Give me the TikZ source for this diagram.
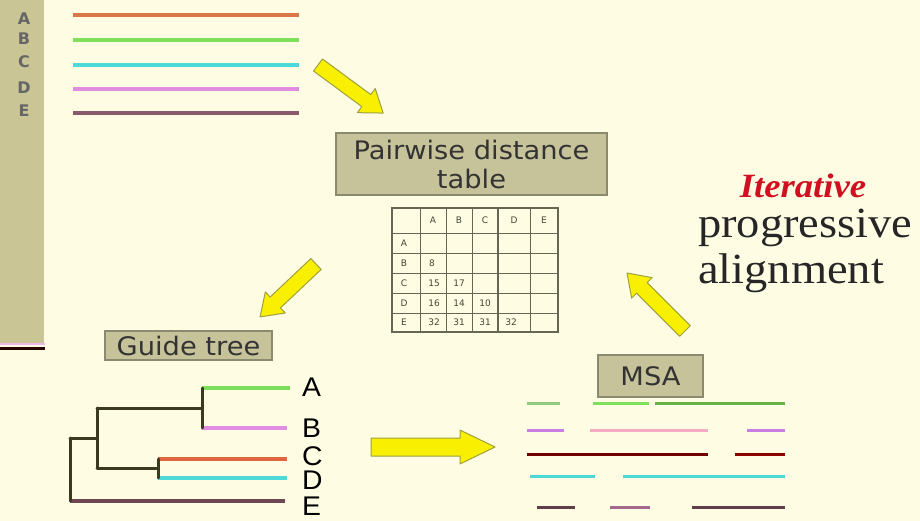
\documentclass[tikz,border=0pt]{standalone}
\usepackage{fontspec}
\setmainfont[FakeStretch=1.08]{Liberation Serif}
\newfontfamily\boxfont[FakeStretch=1.07]{DejaVu Sans}
\newfontfamily\smallfont{DejaVu Sans}
\newfontfamily\labfont[FakeStretch=1.05]{Liberation Sans}
\definecolor{bg}{HTML}{FEFDE4}
\definecolor{panel}{HTML}{C9C595}
\definecolor{boxfill}{HTML}{C6C29A}
\definecolor{boxborder}{HTML}{8A8A70}
\definecolor{arrowfill}{HTML}{F8F000}
\definecolor{arrowdraw}{HTML}{A0A040}
\definecolor{seqA}{HTML}{D9774A}
\definecolor{seqB}{HTML}{7EE05A}
\definecolor{seqC}{HTML}{4FD8D8}
\definecolor{seqD}{HTML}{E08CE0}
\definecolor{seqE}{HTML}{8A5A6A}
\definecolor{branch}{HTML}{3A3A1E}
\definecolor{itred}{HTML}{D01020}
\definecolor{tabline}{HTML}{666655}
\definecolor{tabtext}{HTML}{444433}
\begin{document}
\begin{tikzpicture}[x=1pt,y=-1pt,
  seq/.style={line width=3.5pt},
  br/.style={line width=3pt,color=branch,line cap=round},
  labelbox/.style={draw=boxborder,fill=boxfill,line width=1.2pt,inner sep=0pt,
     font=\boxfont\fontsize{25.5}{29}\selectfont,text=black!80,align=center},
  tcell/.style={font=\smallfont\fontsize{9}{10}\selectfont,text=tabtext,inner sep=0pt},
  leaf/.style={font=\labfont\fontsize{27}{30}\selectfont,anchor=base west,inner sep=0pt},
  sidel/.style={font=\smallfont\bfseries\fontsize{16}{18}\selectfont,text=black!60,inner sep=0pt},
  arrowstyle/.style={fill=arrowfill,draw=arrowdraw,line width=1pt,line join=round},
  pics/blockarrow/.style n args={4}{code={
    \path[arrowstyle] (0,{-#2/2}) -- ({#1-#4},{-#2/2}) -- ({#1-#4},{-#3/2}) -- (#1,0)
      -- ({#1-#4},{#3/2}) -- ({#1-#4},{#2/2}) -- (0,{#2/2}) -- cycle;}}
]
% background
\fill[bg] (0,0) rectangle (920,521);
\useasboundingbox (0,0) rectangle (920,521);
% left panel
\fill[panel] (0,0) rectangle (44,345);
\draw[line width=1.5pt,color=seqD!60] (0,344) -- (45,344);
\draw[line width=3pt,color=black!85!red] (0,348) -- (45,348);
\node[sidel] (sA) at (24,19) {A};
\node[sidel] (sB) at (24,39) {B};
\node[sidel] (sC) at (24,62) {C};
\node[sidel] (sD) at (24,88) {D};
\node[sidel] (sE) at (24,111) {E};
% input sequences
\draw[seq,seqA] (73,15) -- (299,15);
\draw[seq,seqB] (73,40) -- (299,40);
\draw[seq,seqC] (73,65) -- (299,65);
\draw[seq,seqD] (73,89) -- (299,89);
\draw[seq,seqE] (73,113) -- (299,113);
% arrows
\pic[rotate=-36.4] (ar1) at (318,65) {blockarrow={81}{15}{30}{21}};
\pic[rotate=223.4] (ar2) at (316,264) {blockarrow={77}{15}{29}{21}};
\pic (ar3) at (371,447) {blockarrow={124}{18}{34}{35}};
\pic[rotate=135] (ar4) at (685,331) {blockarrow={82}{15}{29}{21}};
% pairwise box
\node[labelbox,minimum width=271pt,minimum height=62pt] (pw) at (471.5,164)
  {Pairwise distance\\table};
% table
\draw[tabline,line width=1.2pt] (392,208) rectangle (558,332);
\foreach \xx in {420,446,472,498,530} \draw[tabline,line width=0.8pt] (\xx,208) -- (\xx,332);
\foreach \yy in {233,253,273,293,313} \draw[tabline,line width=0.8pt] (392,\yy) -- (558,\yy);
\draw[tabline,line width=1.3pt] (498,208) -- (498,332);
\node[tcell] (hA) at (433,220) {A};
\node[tcell] (hB) at (459,220) {B};
\node[tcell] (hC) at (485,220) {C};
\node[tcell] (hD) at (514,220) {D};
\node[tcell] (hE) at (544,220) {E};
\node[tcell] (rA) at (404,243) {A};
\node[tcell] (rB) at (404,263) {B};
\node[tcell] (rC) at (404,283) {C};
\node[tcell] (rD) at (404,303) {D};
\node[tcell] (rE) at (404,322) {E};
\node[tcell] (cBA) at (432,263) {8};
\node[tcell] (cCA) at (434,283) {15};
\node[tcell] (cCB) at (459,283) {17};
\node[tcell] (cDA) at (434,303) {16};
\node[tcell] (cDB) at (459,303) {14};
\node[tcell] (cDC) at (485,303) {10};
\node[tcell] (cEA) at (434,322) {32};
\node[tcell] (cEB) at (459,322) {31};
\node[tcell] (cEC) at (485,322) {31};
\node[tcell] (cED) at (511,322) {32};
% guide tree box
\node[labelbox,minimum width=167pt,minimum height=29pt] (gt) at (188.5,345.5) {Guide tree};
% tree
\coordinate (ab) at (202,408);
\coordinate (cd) at (158,468);
\coordinate (abcd) at (97,438);
\draw[seq,seqB] (202,388) -- (290,388);
\draw[seq,seqD] (202,428) -- (287,428);
\draw[seq,seqA!85!red] (158,459) -- (287,459);
\draw[seq,seqC] (158,478) -- (287,478);
\draw[seq,seqE!80!black] (70,501) -- (285,501);
\draw[br] (202,388) -- (202,428);
\draw[br] (97,408) -- (ab);
\draw[br] (158,459) -- (158,478);
\draw[br] (97,468) -- (cd);
\draw[br] (97,408) -- (97,468);
\draw[br] (70,438) -- (abcd);
\draw[br] (70,438) -- (70,501);
\node[leaf] (lA) at (302,396) {A};
\node[leaf] (lB) at (302,437) {B};
\node[leaf] (lC) at (302,465) {C};
\node[leaf] (lD) at (302,489) {D};
\node[leaf] (lE) at (302,515) {E};
% MSA box
\node[labelbox,minimum width=105pt,minimum height=42pt] (msa) at (650.5,376) {MSA};
% MSA lines
\draw[seq,line width=3pt,color=seqB!80!black!70] (527,403) -- (560,403);
\draw[seq,line width=3pt,color=seqB] (593,403) -- (649,403);
\draw[seq,line width=3pt,color=seqB!80!black] (655,403) -- (785,403);
\draw[seq,line width=3pt,color=seqD!90!blue] (527,430) -- (564,430);
\draw[seq,line width=3pt,color=seqD!60!red!50] (590,430) -- (708,430);
\draw[seq,line width=3pt,color=seqD!90!blue] (747,430) -- (785,430);
\draw[seq,line width=3pt,color=red!45!black] (527,454) -- (708,454);
\draw[seq,line width=3pt,color=red!55!black] (735,454) -- (785,454);
\draw[seq,line width=3pt,color=seqC] (530,476) -- (595,476);
\draw[seq,line width=3pt,color=seqC] (623,476) -- (785,476);
\draw[seq,line width=3pt,color=seqE!70!black] (537,507) -- (575,507);
\draw[seq,line width=3pt,color=seqE!70!seqD] (610,507) -- (650,507);
\draw[seq,line width=3pt,color=seqE!70!black] (692,507) -- (785,507);
% right text
\node[anchor=base,inner sep=0pt,text=itred,font=\fontsize{34}{36}\selectfont\bfseries\itshape] (it) at (803,198) {Iterative};
\node[anchor=base west,inner sep=0pt,font=\fontsize{43}{46}\selectfont,text=black!85] (pr) at (698,237) {progressive};
\node[anchor=base west,inner sep=0pt,font=\fontsize{43}{46}\selectfont,text=black!85] (al) at (698,283) {alignment};
\end{tikzpicture}
\end{document}
